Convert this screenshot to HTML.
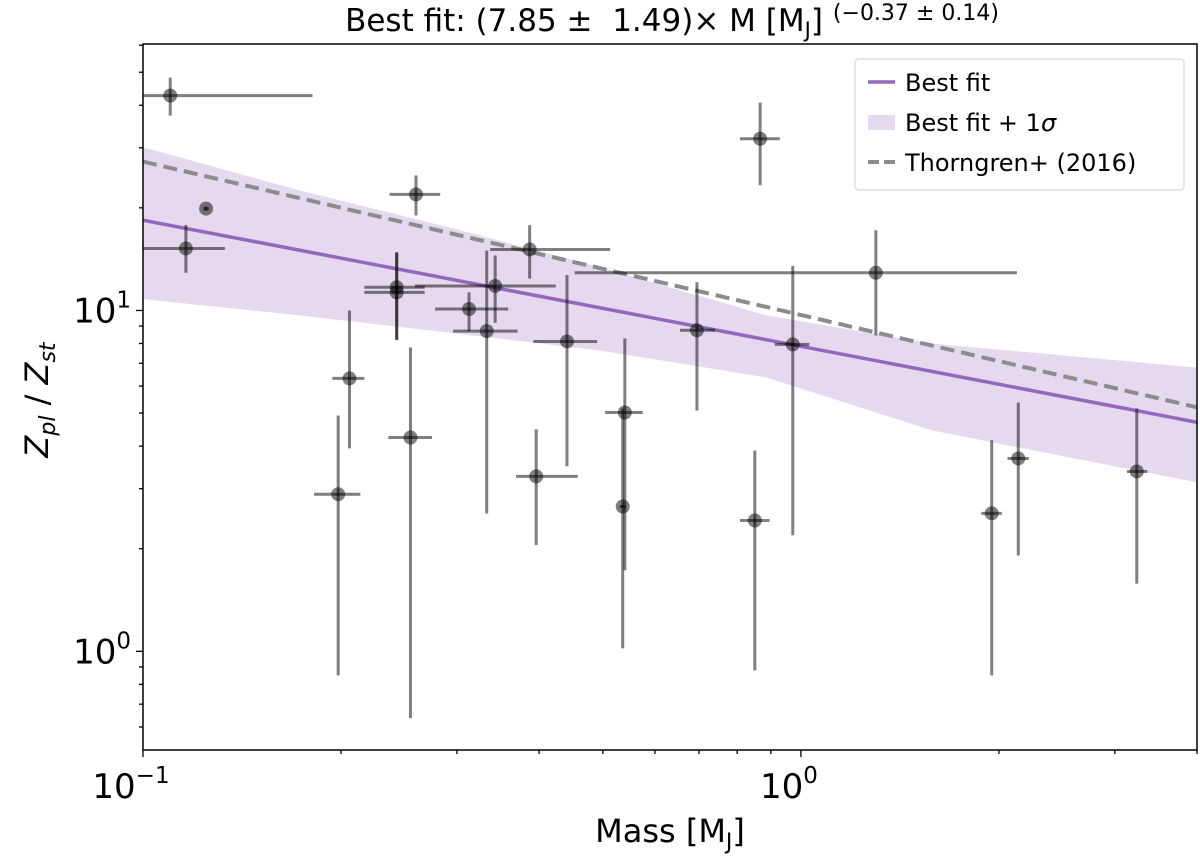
<!DOCTYPE html>
<html><head><meta charset="utf-8"><style>
html,body{margin:0;padding:0;background:#fff;}
svg text{font-family:"DejaVu Sans","Liberation Sans",sans-serif;}
</style></head><body>
<svg id="chart" width="1200" height="859" viewBox="0 0 1200 859" xmlns="http://www.w3.org/2000/svg">
<defs><clipPath id="clip"><rect x="143" y="44" width="1054" height="706"/></clipPath></defs>
<text x="672" y="31" font-size="31" text-anchor="middle" xml:space="preserve">Best fit: (7.85 ±  1.49)× M [M<tspan font-size="21" dy="6">J</tspan><tspan dy="-6">]</tspan><tspan font-size="22" dy="-11" dx="10">(−0.37 ± 0.14)</tspan></text>
<g id="band" clip-path="url(#clip)"></g>
<g id="lines" clip-path="url(#clip)"></g>
<g id="points" clip-path="url(#clip)"></g>
<g id="axes"></g>
<text x="670" y="842" font-size="32" text-anchor="middle">Mass [M<tspan font-size="22" dy="7">J</tspan><tspan dy="-7">]</tspan></text>
<text transform="translate(48,400) rotate(-90)" font-size="32" text-anchor="middle" font-style="italic">Z<tspan font-size="22" dy="7">pl</tspan><tspan dy="-7" font-style="normal"> / </tspan>Z<tspan font-size="22" dy="7">st</tspan></text>
<g>
<rect x="855" y="59" width="329" height="131" rx="4" fill="#fff" fill-opacity="0.8" stroke="#ddd" stroke-width="1.5"/>
<line x1="868" y1="82" x2="895" y2="82" stroke="#9467bd" stroke-width="3.5"/>
<text x="905" y="91" font-size="24">Best fit</text>
<rect x="868" y="115" width="27" height="15" fill="#9467bd" fill-opacity="0.25"/>
<text x="905" y="131" font-size="24">Best fit + 1<tspan font-style="italic">σ</tspan></text>
<line x1="868" y1="162" x2="895" y2="162" stroke="#8c8c8c" stroke-width="4" stroke-dasharray="11,5"/>
<text x="905" y="171" font-size="24">Thorngren+ (2016)</text>
</g>
</svg>
<script>
const mass = [0.11,0.1247,0.1162,0.26,0.867,0.243,0.243,0.313,0.333,0.387,0.343,0.441,0.540,0.536,0.396,0.206,0.198,0.255,0.695,1.30,0.972,0.851,1.95,2.14,3.24];
const massLo = [0.1,0.1235,0.1,0.237,0.808,0.217,0.217,0.278,0.296,0.337,0.259,0.392,0.504,0.530,0.369,0.194,0.182,0.236,0.655,0.453,0.912,0.808,1.88,2.06,3.13];
const massHi = [0.181,0.126,0.1332,0.283,0.929,0.268,0.268,0.359,0.371,0.513,0.424,0.490,0.575,0.542,0.458,0.217,0.214,0.275,0.740,2.13,1.03,0.896,2.02,2.22,3.36];
const zval = [42.7,19.9,15.2,21.9,31.9,11.7,11.3,10.1,8.7,15.1,11.8,8.11,5.02,2.66,3.26,6.32,2.89,4.24,8.75,12.9,7.95,2.42,2.54,3.68,3.37];
const zLo = [37.3,19.6,12.9,19.0,23.3,8.2,8.2,8.7,2.54,12.4,9.2,3.49,1.73,1.02,2.05,3.94,0.85,0.637,5.09,8.45,2.19,0.879,0.85,1.91,1.58];
const zHi = [48.2,20.2,17.8,24.9,40.7,14.8,14.8,11.3,15.0,17.8,14.5,12.7,8.28,5.16,4.48,10.0,4.92,7.79,12.1,17.2,13.5,3.88,4.16,5.37,5.16];
const bandMass = [0.1,0.173,0.293,0.495,0.887,1.58,4.0];
const bandHi = [30.1,22.5,17.5,13.4,9.67,8.0,6.8];
const bandLo = [10.8,9.67,8.6,7.63,6.36,4.45,3.13];
const fitA = 7.85, fitB = -0.37;
const thA = 9.7, thB = -0.45;
const xTicks = [0.1,1];
const xTickLabels = ["10","10"];
const xTickExp = ["−1","0"];
const yTicks = [1,10];
const yTickExp = ["0","1"];

const X0=143,X1=1197,Y0=750,Y1=44;
const lx0=-1, lx1=Math.log10(4.0);
const ly0=Math.log10(0.5135), ly1=Math.log10(60.5);
function sx(m){return X0+(Math.log10(m)-lx0)/(lx1-lx0)*(X1-X0);}
function sy(z){return Y0-(Math.log10(z)-ly0)/(ly1-ly0)*(Y0-Y1);}
const NS="http://www.w3.org/2000/svg";
function mk(tag,attrs,parent){const e=document.createElementNS(NS,tag);for(const k in attrs)e.setAttribute(k,attrs[k]);parent.appendChild(e);return e;}

const bandG=document.getElementById('band');
let d='';
bandMass.forEach((m,i)=>{d+=(i?'L':'M')+sx(m).toFixed(1)+','+sy(bandHi[i]).toFixed(1);});
for(let i=bandMass.length-1;i>=0;i--){d+='L'+sx(bandMass[i]).toFixed(1)+','+sy(bandLo[i]).toFixed(1);}
const band=mk('path',{d:d+'Z',fill:'#9467bd','fill-opacity':'0.25'},bandG);



const linesG=document.getElementById('lines');
const fitL=mk('line',{x1:sx(0.1),y1:sy(fitA*Math.pow(0.1,fitB)),x2:sx(4),y2:sy(fitA*Math.pow(4,fitB)),stroke:'#9467bd','stroke-width':3.5},linesG);


const thL=mk('line',{x1:sx(0.1),y1:sy(thA*Math.pow(0.1,thB)),x2:sx(4),y2:sy(thA*Math.pow(4,thB)),stroke:'#8c8c8c','stroke-width':4,'stroke-dasharray':'14,7'},linesG);



const pG=document.getElementById('points');
mass.forEach((m,i)=>{
  const g=mk('g',{},pG);
  
  
  mk('line',{x1:sx(massLo[i]),y1:sy(zval[i]),x2:sx(massHi[i]),y2:sy(zval[i]),stroke:'#000','stroke-opacity':0.5,'stroke-width':3},g);
  mk('line',{x1:sx(m),y1:sy(zLo[i]),x2:sx(m),y2:sy(zHi[i]),stroke:'#000','stroke-opacity':0.5,'stroke-width':3},g);
  mk('circle',{cx:sx(m),cy:sy(zval[i]),r:7,fill:'#000','fill-opacity':0.5},g);
});

const aG=document.getElementById('axes');
const fr=mk('rect',{x:X0,y:Y1,width:X1-X0,height:Y0-Y1,fill:'none',stroke:'#000','stroke-width':1.5},aG);


for(let dec=-1;dec<=0;dec++){for(let k=1;k<10;k++){const v=k*Math.pow(10,dec);if(v<0.1||v>4)continue;
  const x=sx(v);mk('line',{x1:x,y1:Y0,x2:x,y2:Y0+(k==1?7:4),stroke:'#000','stroke-width':1.3},aG);}}
for(let dec=-1;dec<=1;dec++){for(let k=1;k<10;k++){const v=k*Math.pow(10,dec);if(v<0.5135||v>60.5)continue;
  const y=sy(v);mk('line',{x1:X0,y1:y,x2:X0-(k==1?7:4),y2:y,stroke:'#000','stroke-width':1.3},aG);}}
xTicks.forEach((v,i)=>{
  const t=mk('text',{x:sx(v)-12,y:Y0+48,'font-size':34,'text-anchor':'middle'},aG);
  
  
  t.textContent=xTickLabels[i];
  const s=mk('tspan',{'font-size':23,dy:-15},t);s.textContent=xTickExp[i];
});
yTicks.forEach((v,i)=>{
  const t=mk('text',{x:X0-12,y:sy(v)+12,'font-size':34,'text-anchor':'end'},aG);
  
  
  t.textContent='10';
  const s=mk('tspan',{'font-size':23,dy:-15},t);s.textContent=yTickExp[i];
});
</script>
</body></html>
